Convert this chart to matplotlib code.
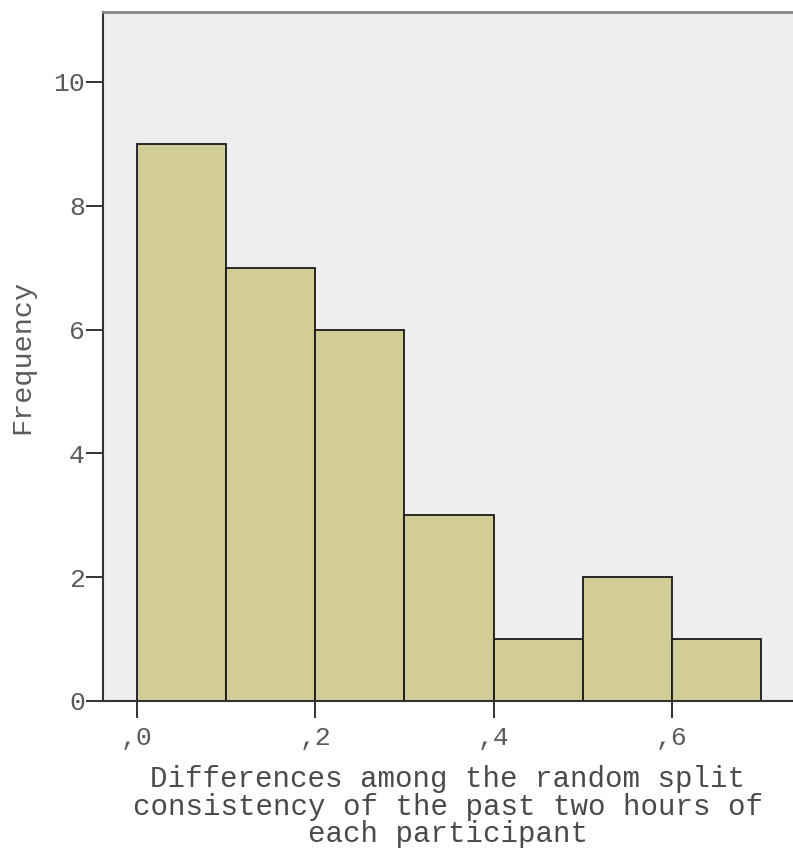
import numpy as np
import matplotlib
matplotlib.use('Agg')
import matplotlib.pyplot as plt

# histogram data
bin_edges = [0.0, 0.1, 0.2, 0.3, 0.4, 0.5, 0.6, 0.7]
counts = [9, 7, 6, 3, 1, 2, 1]
x_ticks = [0.0, 0.2, 0.4, 0.6]
x_tick_labels = [',0', ',2', ',4', ',6']
y_ticks = [0, 2, 4, 6, 8, 10]

plt.rcParams['font.family'] = ['Liberation Mono', 'DejaVu Sans Mono']

fig = plt.figure(figsize=(7.93, 8.48), dpi=100)
ax = fig.add_axes([103 / 793, 147 / 848, 1 - 103 / 793, (701 - 12) / 848])
ax.set_facecolor('#eeeeee')

lefts = np.array(bin_edges[:-1])
widths = np.diff(bin_edges)
ax.bar(lefts, counts, width=widths, align='edge', color='#d2cd96',
       edgecolor='#1a1a1a', linewidth=1.3, zorder=2)

ax.set_xlim(-0.0381, 0.7357)
ax.set_ylim(0, 11.13)

ax.set_xticks(x_ticks)
ax.set_xticklabels(x_tick_labels)
ax.set_yticks(y_ticks)

ax.tick_params(axis='both', direction='out', length=12, width=1.3,
               color='#222222', labelcolor='#5a5a5a', labelsize=19)
ax.tick_params(axis='x', pad=6)
ax.tick_params(axis='y', pad=1)

for side in ['left', 'bottom']:
    ax.spines[side].set_color('#333333')
    ax.spines[side].set_linewidth(1.5)
ax.spines['top'].set_color('#888888')
ax.spines['top'].set_linewidth(2)
ax.spines['right'].set_visible(False)

ax.set_ylabel('Frequency', fontsize=20.5, color='#5a5a5a', labelpad=13)
ax.set_xlabel('Differences among the random split\n'
              'consistency of the past two hours of\n'
              'each participant', fontsize=21, color='#4a4a4a',
              linespacing=0.98, labelpad=11)

fig.savefig('out.png', dpi=100)
